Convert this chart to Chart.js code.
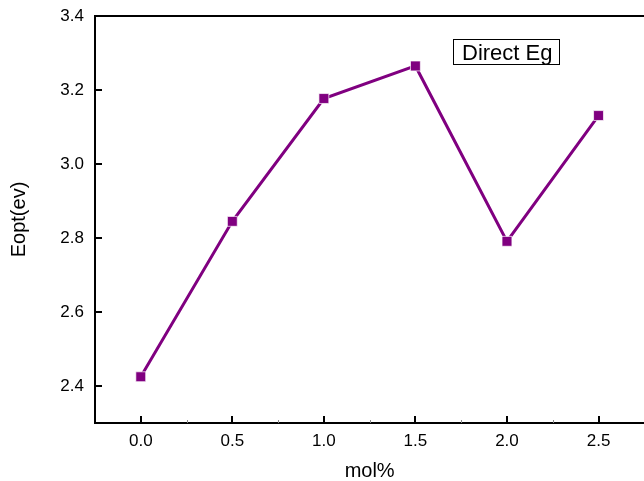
<!DOCTYPE html>
<html>
<head>
<meta charset="utf-8">
<script src="https://cdn.jsdelivr.net/npm/chart.js@4/dist/chart.umd.min.js"></script>
<style>
  html, body { margin: 0; padding: 0; background: #fff; overflow: hidden; }
  canvas { display: block; }
</style>
</head>
<body>
<canvas id="chart" width="652" height="481"></canvas>
<script>
// data
const molPct = [0.0, 0.5, 1.0, 1.5, 2.0, 2.5];
const eoptValues = [2.425, 2.845, 3.177, 3.265, 2.791, 3.131];
const xTicks = [0.0, 0.5, 1.0, 1.5, 2.0, 2.5];
const xMinorTicks = [0.25, 0.75, 1.25, 1.75, 2.25];
const yTicks = [2.4, 2.6, 2.8, 3.0, 3.2, 3.4];
const seriesLabel = 'Direct Eg';

const purple = '#800080';
const font = 'Arial, "Liberation Sans", sans-serif';

// inward ticks, top frame line and the boxed label
const framePlugin = {
  id: 'frame',
  afterDraw(chart) {
    const ctx = chart.ctx;
    const area = chart.chartArea;
    const xs = chart.scales.x, ys = chart.scales.y;
    ctx.save();
    ctx.strokeStyle = '#000';
    ctx.lineWidth = 2;
    ctx.beginPath();
    ctx.moveTo(area.left, area.top);
    ctx.lineTo(area.right + 2, area.top);
    ctx.stroke();

    xTicks.forEach(v => {
      const px = Math.round(xs.getPixelForValue(v));
      ctx.beginPath();
      ctx.moveTo(px, area.bottom);
      ctx.lineTo(px, area.bottom - 7);
      ctx.stroke();
    });
    ctx.lineWidth = 1;
    ctx.strokeStyle = '#888';
    xMinorTicks.forEach(v => {
      const px = Math.round(xs.getPixelForValue(v)) + 0.5;
      ctx.beginPath();
      ctx.moveTo(px, area.bottom);
      ctx.lineTo(px, area.bottom - 3);
      ctx.stroke();
    });
    ctx.strokeStyle = '#000';
    ctx.lineWidth = 2;
    yTicks.forEach(v => {
      const py = Math.round(ys.getPixelForValue(v));
      ctx.beginPath();
      ctx.moveTo(area.left, py);
      ctx.lineTo(area.left + 7, py);
      ctx.stroke();
    });

    // label box
    ctx.font = '22px ' + font;
    ctx.fillStyle = '#000';
    ctx.textBaseline = 'alphabetic';
    ctx.textAlign = 'left';
    ctx.lineWidth = 1;
    ctx.strokeRect(453.5, 39.5, 106, 25);
    ctx.fillText(seriesLabel, 462, 60);
    ctx.restore();
  }
};

new Chart(document.getElementById('chart'), {
  type: 'scatter',
  data: {
    datasets: [{
      label: seriesLabel,
      data: molPct.map((x, i) => ({ x: x, y: eoptValues[i] })),
      showLine: true,
      borderColor: purple,
      backgroundColor: purple,
      borderWidth: 3,
      pointStyle: 'rect',
      pointRadius: 7,
      pointBorderColor: '#ffffff',
      pointBorderWidth: 0.7,
      pointBackgroundColor: purple
    }]
  },
  options: {
    responsive: false,
    animation: false,
    layout: { padding: { top: 16, right: 0, left: 0, bottom: 0 } },
    plugins: {
      legend: { display: false },
      tooltip: { enabled: false }
    },
    scales: {
      x: {
        type: 'linear',
        min: -0.25,
        max: 2.75,
        afterBuildTicks(scale) { scale.ticks = xTicks.map(v => ({ value: v })); },
        afterFit(scale) {
          scale.height = 58;
          scale.paddingLeft = 0;
          scale.paddingRight = 0;
        },
        grid: { display: true, drawOnChartArea: false, drawTicks: false },
        border: { display: true, color: '#000', width: 2 },
        ticks: {
          padding: 8,
          color: '#000',
          font: { family: font, size: 17 },
          callback: v => Number(v).toFixed(1)
        },
        title: {
          display: true,
          text: 'mol%',
          color: '#000',
          font: { family: font, size: 20 },
          padding: { top: 6, bottom: -2 }
        }
      },
      y: {
        type: 'linear',
        min: 2.3,
        max: 3.4,
        afterBuildTicks(scale) { scale.ticks = yTicks.map(v => ({ value: v })); },
        afterFit(scale) {
          scale.width = 95;
          scale.paddingTop = 0;
          scale.paddingBottom = 0;
        },
        grid: { display: true, drawOnChartArea: false, drawTicks: false },
        border: { display: true, color: '#000', width: 2 },
        ticks: {
          padding: 11,
          color: '#000',
          font: { family: font, size: 17 },
          callback: v => Number(v).toFixed(1)
        },
        title: {
          display: true,
          text: 'Eopt(ev)',
          color: '#000',
          font: { family: font, size: 20 },
          padding: { top: 7, bottom: 0 }
        }
      }
    }
  },
  plugins: [framePlugin]
});
</script>
</body>
</html>
